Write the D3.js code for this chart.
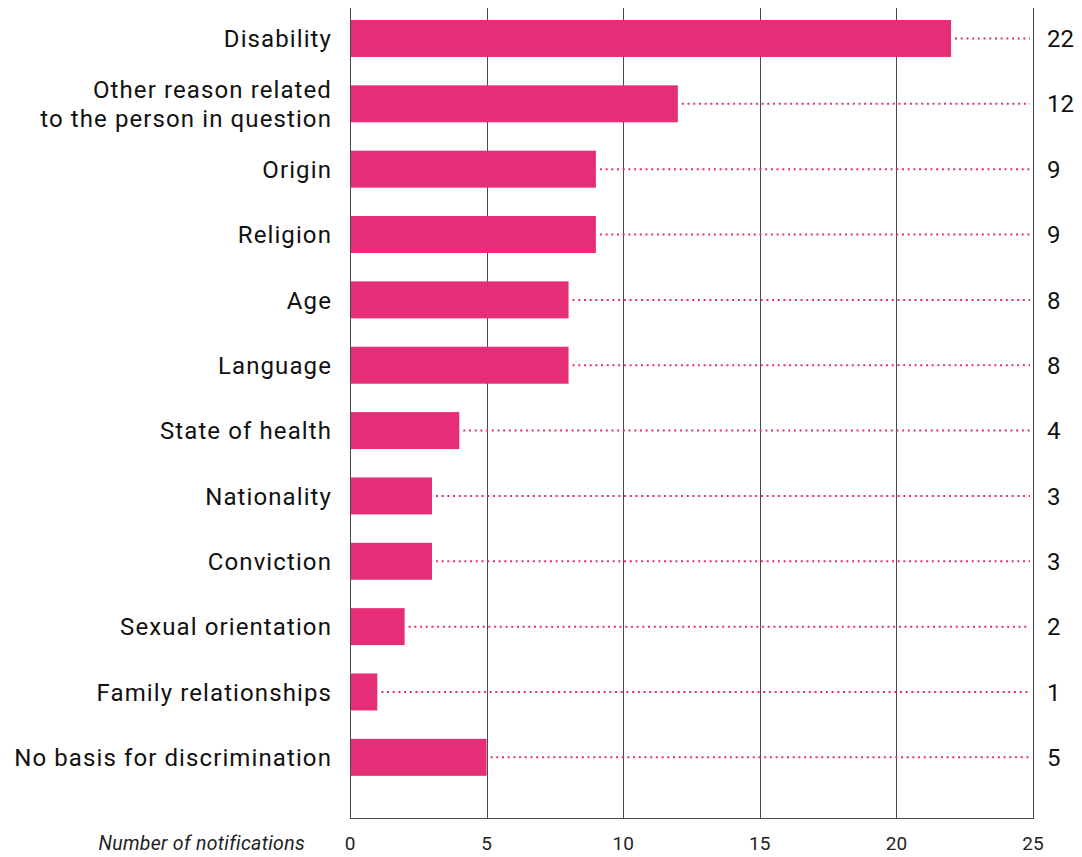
<!DOCTYPE html>
<html>
<head>
<meta charset="utf-8">
<script src="https://cdn.jsdelivr.net/npm/d3@7"></script>
<style>
  html, body { margin: 0; padding: 0; background: #fff; }
  svg { display: block; }
  text { font-family: Roboto, "DejaVu Sans", sans-serif; }
</style>
</head>
<body>
<svg id="chart" width="1082" height="857"></svg>
<script>
// Notifications by ground of discrimination
const categories = [
  ["Disability"],
  ["Other reason related", "to the person in question"],
  ["Origin"],
  ["Religion"],
  ["Age"],
  ["Language"],
  ["State of health"],
  ["Nationality"],
  ["Conviction"],
  ["Sexual orientation"],
  ["Family relationships"],
  ["No basis for discrimination"]
];
const values = [22, 12, 9, 9, 8, 8, 4, 3, 3, 2, 1, 5];
const xTicks = [0, 5, 10, 15, 20, 25];
const axisTitle = "Number of notifications";

const svg = d3.select("#chart");
const plotLeft = 350, plotRight = 1033, plotTop = 8, plotBottom = 818;
const pink = "#e62d78";

const x = d3.scaleLinear().domain([0, 25]).range([plotLeft, plotRight]);
const y = d3.scaleBand()
  .domain(d3.range(categories.length))
  .range([5.8, 790])
  .paddingInner(0.434)
  .paddingOuter(0.217);

// vertical gridlines (including the left and right frame)
svg.append("g")
  .selectAll("line")
  .data(xTicks)
  .join("line")
  .attr("x1", d => Math.round(x(d)) + 0.5)
  .attr("x2", d => Math.round(x(d)) + 0.5)
  .attr("y1", plotTop)
  .attr("y2", plotBottom)
  .attr("stroke", "#4a4a4a")
  .attr("stroke-width", 1);

// bottom baseline
svg.append("line")
  .attr("x1", plotLeft).attr("x2", plotRight + 1)
  .attr("y1", plotBottom + 0.5).attr("y2", plotBottom + 0.5)
  .attr("stroke", "#4a4a4a").attr("stroke-width", 1);

// dotted leaders from each bar to the right frame
svg.append("g")
  .selectAll("line")
  .data(values)
  .join("line")
  .attr("x1", d => x(d) + 4)
  .attr("x2", plotRight - 3)
  .attr("y1", (d, i) => y(i) + y.bandwidth() / 2)
  .attr("y2", (d, i) => y(i) + y.bandwidth() / 2)
  .attr("stroke", pink)
  .attr("stroke-width", 2)
  .attr("stroke-dasharray", "2,3.7");

// bars
svg.append("g")
  .selectAll("rect")
  .data(values)
  .join("rect")
  .attr("x", x(0) + 1)
  .attr("y", (d, i) => y(i))
  .attr("width", d => x(d) - x(0) - 1)
  .attr("height", y.bandwidth())
  .attr("fill", pink);

// value labels at the right
svg.append("g")
  .selectAll("text")
  .data(values)
  .join("text")
  .attr("x", 1047)
  .attr("y", (d, i) => y(i) + y.bandwidth() / 2)
  .attr("dy", "0.36em")
  .attr("font-size", 24)
  .attr("fill", "#111")
  .text(d => d);

// category labels
const catG = svg.append("g");
categories.forEach((lines, i) => {
  const cy = y(i) + y.bandwidth() / 2;
  const lh = 29;
  const t = catG.append("text")
    .attr("x", 332)
    .attr("text-anchor", "end")
    .attr("font-size", 24)
    .attr("letter-spacing", 1.1)
    .attr("fill", "#111");
  lines.forEach((ln, j) => {
    t.append("tspan")
      .attr("x", 332)
      .attr("y", cy + (j - (lines.length - 1) / 2) * lh)
      .attr("dy", "0.36em")
      .text(ln);
  });
});

// x tick labels
svg.append("g")
  .selectAll("text")
  .data(xTicks)
  .join("text")
  .attr("x", d => x(d))
  .attr("y", 843)
  .attr("dy", "0.36em")
  .attr("text-anchor", "middle")
  .attr("font-size", 19)
  .attr("fill", "#222")
  .text(d => d);

// axis title
svg.append("text")
  .attr("x", 305)
  .attr("y", 843)
  .attr("dy", "0.36em")
  .attr("text-anchor", "end")
  .attr("font-size", 19.5)
  .attr("letter-spacing", 0.3)
  .attr("font-style", "italic")
  .attr("fill", "#222")
  .text(axisTitle);
</script>
</body>
</html>
